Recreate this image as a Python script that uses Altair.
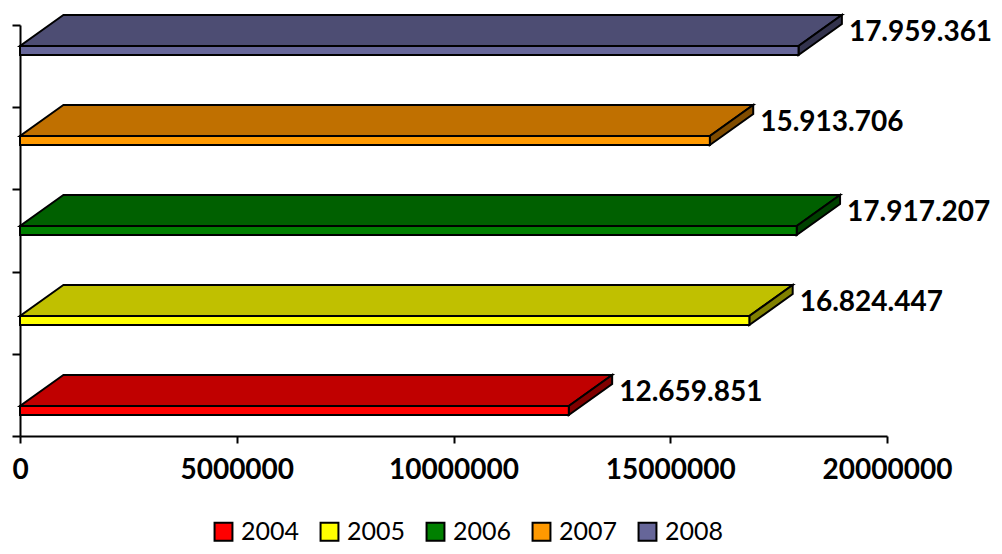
import altair as alt
import pandas as pd

years = ["2004", "2005", "2006", "2007", "2008"]
values = [12659851, 16824447, 17917207, 15913706, 17959361]
labels = ["12.659.851", "16.824.447", "17.917.207", "15.913.706", "17.959.361"]
front_colors = ["#FF0000", "#FFFF00", "#008000", "#FF9900", "#666699"]
top_colors = ["#C00000", "#C0C000", "#006000", "#C07000", "#4D4D73"]
side_colors = ["#800000", "#808000", "#004000", "#804C00", "#33334D"]

# 3D geometry (in data units)
DEPTH_X = 1000000
DEPTH_Y = 0.377
BAR_H = 0.11
SPACING = 1.095
BASE = 0.255

front_rows, top_rows, side_rows, label_rows = [], [], [], []
for i, (yr, v, lab) in enumerate(zip(years, values, labels)):
    yb = BASE + i * SPACING
    yt = yb + BAR_H
    front_rows.append(dict(year=yr, x0=0, x1=v, yb=yb, yt=yt))
    top_rows.append(dict(year=yr, y=yt, xa=0, xb=v, fill=top_colors[i]))
    top_rows.append(dict(year=yr, y=yt + DEPTH_Y, xa=DEPTH_X, xb=v + DEPTH_X, fill=top_colors[i]))
    side_rows.append(dict(year=yr, x=v, ya=yb, yb2=yt, fill=side_colors[i]))
    side_rows.append(dict(year=yr, x=v + DEPTH_X, ya=yb + DEPTH_Y, yb2=yt + DEPTH_Y, fill=side_colors[i]))
    label_rows.append(dict(year=yr, x=v + DEPTH_X, y=yt + DEPTH_Y * 0.42, label=lab))

front = pd.DataFrame(front_rows)
top = pd.DataFrame(top_rows)
side = pd.DataFrame(side_rows)
lab = pd.DataFrame(label_rows)

xscale = alt.Scale(domain=[0, 20000000], nice=False, zero=True)
yscale = alt.Scale(domain=[0, 5], nice=False, zero=True)

xaxis = alt.Axis(values=[0, 5000000, 10000000, 15000000, 20000000], format="d",
                 grid=False, labelFont="Lato", labelFontWeight="bold", labelFontSize=28,
                 labelColor="black", domainColor="black", domainWidth=2,
                 tickColor="black", tickWidth=2, tickSize=7, labelPadding=13,
                 labelFlush=False, labelOverlap=False, title=None)
yaxis = alt.Axis(values=[0, 1, 2, 3, 4, 5], labels=False, grid=False,
                 domainColor="black", domainWidth=2, tickColor="black",
                 tickWidth=2, tickSize=8, title=None)

top_layer = alt.Chart(top).mark_area(orient="horizontal", stroke="black", strokeWidth=2,
                                     opacity=1, clip=False).encode(
    y=alt.Y("y:Q", scale=yscale, axis=yaxis),
    x=alt.X("xa:Q", scale=xscale, axis=xaxis),
    x2="xb:Q",
    detail="year:N",
    fill=alt.Fill("fill:N", scale=None),
)

side_layer = alt.Chart(side).mark_area(orient="vertical", stroke="black", strokeWidth=2,
                                       opacity=1, clip=False).encode(
    x=alt.X("x:Q", scale=xscale),
    y=alt.Y("ya:Q", scale=yscale),
    y2="yb2:Q",
    detail="year:N",
    fill=alt.Fill("fill:N", scale=None),
)

front_layer = alt.Chart(front).mark_rect(stroke="black", strokeWidth=2, clip=False).encode(
    x=alt.X("x0:Q", scale=xscale),
    x2="x1:Q",
    y=alt.Y("yb:Q", scale=yscale),
    y2="yt:Q",
    color=alt.Color("year:N", scale=alt.Scale(domain=years, range=front_colors),
                    legend=alt.Legend(title=None, orient="none", direction="horizontal",
                                      legendX=191, legendY=494,
                                      symbolType="square", symbolSize=320,
                                      symbolStrokeColor="black", symbolStrokeWidth=2,
                                      symbolOpacity=1,
                                      labelFont="Lato", labelFontSize=25, labelColor="black",
                                      labelOffset=5, columnPadding=16)),
)

text_layer = alt.Chart(lab).mark_text(align="left", baseline="middle", dx=7,
                                      font="Lato", fontWeight="bold", fontSize=28,
                                      color="black", clip=False).encode(
    x=alt.X("x:Q", scale=xscale),
    y=alt.Y("y:Q", scale=yscale),
    text="label:N",
)

chart = alt.layer(top_layer, side_layer, front_layer, text_layer).properties(
    width=867, height=411,
    autosize=alt.AutoSizeParams(type="none"),
    padding={"left": 12, "top": 17, "right": 107, "bottom": 110},
    background="white",
).configure_view(stroke=None)

chart.save("out.html", embed_options={"renderer": "svg", "actions": False})
